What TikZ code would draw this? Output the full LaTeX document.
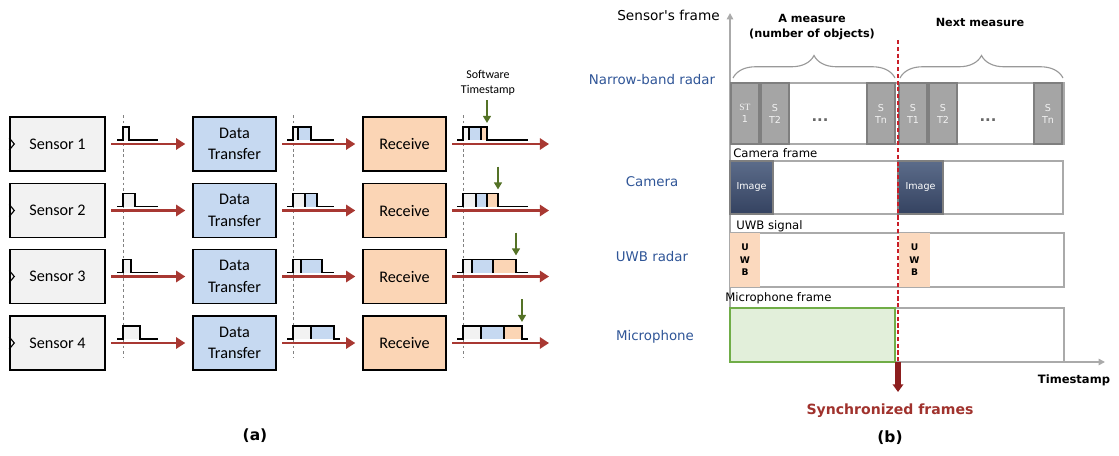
\documentclass[tikz,border=0pt]{standalone}
\usepackage{fontspec}
\setmainfont{Carlito}
\newfontfamily\comicfont{DejaVu Sans}
\newfontfamily\serfont{Liberation Serif}
\usetikzlibrary{arrows.meta,decorations.pathreplacing}

\definecolor{boxgray}{RGB}{242,242,242}
\definecolor{dtblue}{RGB}{198,217,241}
\definecolor{rcvpeach}{RGB}{251,213,181}
\definecolor{flowred}{RGB}{168,56,50}
\definecolor{tsgreen}{RGB}{84,114,38}
\definecolor{dashgray}{RGB}{130,130,130}
\definecolor{lblblue}{RGB}{47,85,151}
\definecolor{stgray}{RGB}{165,165,165}
\definecolor{stedge}{RGB}{127,127,127}
\definecolor{imgtop}{RGB}{92,108,138}
\definecolor{imgbot}{RGB}{52,66,96}
\definecolor{uwbpeach}{RGB}{251,217,190}
\definecolor{micfill}{RGB}{226,239,218}
\definecolor{micedge}{RGB}{112,173,71}
\definecolor{axisgray}{RGB}{170,170,170}
\definecolor{syncred}{RGB}{200,30,40}
\definecolor{syncdark}{RGB}{140,30,30}
\definecolor{synctext}{RGB}{160,50,45}

\begin{document}
\begin{tikzpicture}[x=0.025cm, y=-0.025cm,
        box/.style={draw=black, line width=1pt, minimum height=1.35cm, align=center, font=\fontsize{11.5}{15.4}\selectfont},
        sensor/.style={box, fill=boxgray, minimum width=2.375cm},
        transfer/.style={box, fill=dtblue, minimum width=2.075cm},
        receive/.style={box, fill=rcvpeach, minimum width=2.075cm},
        flow/.style={draw=flowred, line width=2pt, -{Triangle[length=6.5pt,width=8pt]}},
        stamp/.style={draw=tsgreen, line width=1.4pt, -{Triangle[length=5pt,width=5.5pt]}},
        guide/.style={draw=dashgray, line width=0.5pt, dash pattern=on 2pt off 2pt},
        pulse/.style={draw=black, line width=0.9pt},
        frame/.style={draw=axisgray, line width=1pt},
        stblock/.style={draw=stedge, fill=stgray, line width=0.8pt, minimum width=0.7cm, minimum height=1.525cm, inner sep=0pt, align=center, text=white!90!gray, font=\comicfont\fontsize{6.8}{8.5}\selectfont},
        imgblock/.style={draw=stedge, line width=0.8pt, top color=imgtop, bottom color=imgbot, minimum height=1.325cm, inner sep=0pt, text=white, font=\comicfont\fontsize{6.8}{8}\selectfont},
        uwbblock/.style={fill=uwbpeach, minimum height=1.35cm, inner sep=0pt, align=center, font=\comicfont\bfseries\fontsize{6.5}{8.9}\selectfont},
        rowlabel/.style={text=lblblue, font=\comicfont\fontsize{9.5}{11}\selectfont},
        frametitle/.style={anchor=west, inner sep=0pt, font=\comicfont\fontsize{8.3}{10}\selectfont},
        measure/.style={align=center, font=\comicfont\bfseries\fontsize{8}{10.6}\selectfont},
        measurebrace/.style={draw=axisgray!90!black, line width=0.8pt, decorate, decoration={brace, amplitude=16pt}},
        axis/.style={draw=axisgray, line width=1.2pt, -{Triangle[length=4.5pt,width=4.5pt]}}
    ]
        \useasboundingbox (0,0) rectangle (1119,455);

        % (a) software timestamp path
        \foreach \x in {123,293,463} {
            \draw[guide] (\x,115) -- (\x,358);
        }
        \foreach \n/\y/\fa/\ga/\ba/\ea/\gb/\bb/\pb in {1/144/129/298/311/334/469/481/487,
                2/210.5/135/305/317/334/476/487/498, 3/276.5/131/301/322/334/472/493/516,
                4/343/140/311/334/340/481/504/522} {
            \node[sensor] (s\n) at (57.5,\y) {Sensor \n};
            \node[transfer] (d\n) at (234.5,\y) {Data\\Transfer};
            \node[receive] (r\n) at (404.5,\y) {Receive};
            \coordinate (o\n) at (549,\y);
            \coordinate (ts\n) at (\pb,\y-21);
            \draw[line width=0.8pt] (s\n.west) ++(0,-6) -- ++(5,6) -- ++(-5,6);
            \draw[flow, shorten <=4pt, shorten >=5pt] (s\n) -- (d\n);
            \draw[flow, shorten <=4pt, shorten >=5pt] (d\n) -- (r\n);
            \draw[flow, shorten <=4pt] (r\n) -- (o\n);
            % pulses
            \fill[boxgray] (123,\y-17) rectangle (\fa,\y-4);
            \draw[pulse] (117,\y-4) -- (123,\y-4) -- (123,\y-17) -- (\fa,\y-17) -- (\fa,\y-4) -- (158,\y-4);
            \fill[boxgray] (293,\y-17) rectangle (\ga,\y-4);
            \fill[dtblue] (\ga,\y-17) rectangle (\ba,\y-4);
            \draw[pulse] (287,\y-4) -- (293,\y-4) -- (293,\y-17) -- (\ba,\y-17) -- (\ba,\y-4) -- (\ea,\y-4);
            \draw[pulse] (\ga,\y-17) -- (\ga,\y-4);
            \fill[boxgray] (463,\y-17) rectangle (\gb,\y-4);
            \fill[dtblue] (\gb,\y-17) rectangle (\bb,\y-4);
            \fill[rcvpeach] (\bb,\y-17) rectangle (\pb,\y-4);
            \draw[pulse] (457,\y-4) -- (463,\y-4) -- (463,\y-17) -- (\pb,\y-17) -- (\pb,\y-4) -- (528,\y-4);
            \draw[pulse] (\gb,\y-17) -- (\gb,\y-4);
            \draw[pulse] (\bb,\y-17) -- (\bb,\y-4);
            \draw[stamp] (ts\n) ++(0,-23) -- (ts\n);
        }
        \node[align=center, font=\fontsize{8.5}{10.6}\selectfont] (swts) at (488,82.5) {Software\\Timestamp};
        \node[font=\comicfont\bfseries\fontsize{11}{13}\selectfont] (capa) at (255,436) {(a)};

        % (b) frames on a common time axis
        \coordinate (origin) at (730,362);
        \coordinate (tend) at (1105,362);
        \coordinate (fend) at (730,13);
        \draw[axis] (origin) -- (tend);
        \draw[axis] (origin) -- (fend);
        \node[anchor=east, inner sep=0pt, font=\comicfont\fontsize{9.7}{11}\selectfont] (yl) at (720,15) {Sensor's frame};
        \node[font=\comicfont\bfseries\fontsize{8.2}{10}\selectfont] (xl) at (1074,380) {Timestamp};

        \node[rowlabel] (lnb) at (652,80) {Narrow-band radar};
        \node[rowlabel] (lcam) at (652,182) {Camera};
        \node[rowlabel] (luwb) at (652,257) {UWB radar};
        \node[rowlabel] (lmic) at (655,337) {Microphone};

        % narrow-band radar
        \draw[measurebrace] (733,78) -- (895,78);
        \draw[measurebrace] (900,78) -- (1063,78);
        \node[measure] (m1) at (812,27.5) {A measure\\(number of objects)};
        \node[measure] (m2) at (980,22) {Next measure};
        \draw[frame] (731,83) rectangle (1064,144);
        \node[stblock] (nb1) at (745,113.5) {\serfont ST\\1};
        \node[stblock] (nb2) at (775,113.5) {S\\T2};
        \node[stblock] (nb3) at (881,113.5) {S\\Tn};
        \node[stblock] (nb4) at (913,113.5) {S\\T1};
        \node[stblock] (nb5) at (943,113.5) {S\\T2};
        \node[stblock] (nb6) at (1048,113.5) {S\\Tn};
        \foreach \x/\k in {820/1,988/2} {
            \node[text=dashgray!80!black, font=\comicfont\bfseries\fontsize{10.5}{12}\selectfont] (dots\k) at (\x,120) {...};
        }

        % camera
        \node[frametitle] (tcam) at (733,153) {Camera frame};
        \draw[frame] (730,161) rectangle (1063,214);
        \node[imgblock, minimum width=1.075cm] (img1) at (751.5,187.5) {Image};
        \node[imgblock, minimum width=1.125cm] (img2) at (920.5,187.5) {Image};

        % uwb
        \node[frametitle] (tuwb) at (736,226) {UWB signal};
        \draw[frame] (730,233) rectangle (1064,287);
        \node[uwbblock, minimum width=0.75cm] (uwb1) at (745,260) {U\\W\\B};
        \node[uwbblock, minimum width=0.775cm] (uwb2) at (914.5,260) {U\\W\\B};

        % microphone
        \node[frametitle] (tmic) at (725,298) {Microphone frame};
        \draw[frame] (730,308) rectangle (1064,362);
        \node[draw=micedge, fill=micfill, line width=1pt, minimum width=4.125cm, minimum height=1.35cm] (mic1) at (812.5,335) {};

        % synchronisation cut
        \coordinate (cuttop) at (898,40);
        \coordinate (cut) at (898,362);
        \coordinate (synctip) at (898,392);
        \draw[draw=syncred, line width=1.2pt, dash pattern=on 3pt off 1.8pt] (cuttop) -- (cut);
        \draw[draw=syncdark, line width=4.2pt, -{Triangle[length=5.5pt,width=7.5pt]}] (cut) -- (synctip);
        \node[text=synctext, font=\comicfont\bfseries\fontsize{10}{12}\selectfont] (sync) at (890,411) {Synchronized frames};
        \node[font=\comicfont\bfseries\fontsize{11}{13}\selectfont] (capb) at (890,438) {(b)};
    \end{tikzpicture}
\end{document}
